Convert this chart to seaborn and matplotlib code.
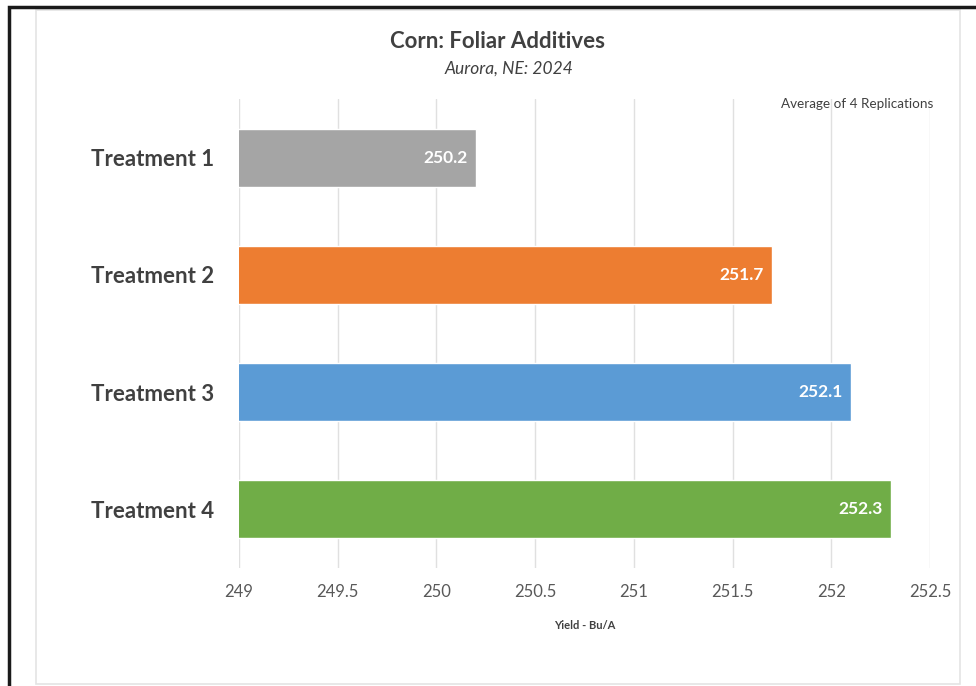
import matplotlib.pyplot as plt
import seaborn as sns
import pandas as pd
from matplotlib.patches import Rectangle

treatments = ["Treatment 1", "Treatment 2", "Treatment 3", "Treatment 4"]
yields = [250.2, 251.7, 252.1, 252.3]
colors = ["#A5A5A5", "#ED7D31", "#5B9BD5", "#70AD47"]
xticks = [249, 249.5, 250, 250.5, 251, 251.5, 252, 252.5]

sns.set_style("white")
plt.rcParams['font.family'] = ['Lato', 'DejaVu Sans']

df = pd.DataFrame({"treatment": treatments, "yield": yields})

fig = plt.figure(figsize=(9.76, 6.86), dpi=100)
ax = fig.add_axes([0.2449, 0.1727, 0.708, 0.6823])

# frames around the chart
fig.patches.append(Rectangle((36/976, 1-684/686), (960-36)/976, (684-10)/686,
                             transform=fig.transFigure, fill=False,
                             edgecolor="#E4E4E4", lw=1.2))
fig.patches.append(Rectangle((9/976, -0.05), 1.2, 1-7/686+0.05,
                             transform=fig.transFigure, fill=False,
                             edgecolor="#1a1a1a", lw=2.5))

sns.barplot(data=df, x="yield", y="treatment", hue="treatment", palette=colors,
            legend=False, width=0.5, ax=ax, saturation=1, zorder=3)
ax.set_xlim(249, 252.5)
ax.set_xticks(xticks)
ax.set_xticklabels([f"{t:g}" for t in xticks], color="#595959", fontsize=12)
ax.tick_params(axis="x", length=0, pad=12)
ax.tick_params(axis="y", length=0, pad=18)
for lab in ax.get_yticklabels():
    lab.set_fontsize(16)
    lab.set_fontweight("bold")
    lab.set_color("#404040")
ax.grid(axis="x", color="#E0E0E0", lw=1, zorder=0)
ax.grid(axis="y", visible=False)
for s in ax.spines.values():
    s.set_visible(False)
ax.set_ylabel("")
ax.set_xlabel("Yield - Bu/A", fontsize=8, fontweight="bold", color="#404040", labelpad=14)

for i, v in enumerate(yields):
    ax.text(v - 0.04, i, f"{v:.1f}", ha="right", va="center", color="white",
            fontsize=12.5, fontweight="bold", zorder=4)

fig.text(0.51, 0.940, "Corn: Foliar Additives", ha="center", va="center",
         fontsize=16, fontweight="bold", color="#404040")
fig.text(0.522, 0.900, "Aurora, NE: 2024", ha="center", va="center",
         fontsize=12.5, style="italic", color="#404040")
fig.text(0.956, 0.849, "Average of 4 Replications", ha="right", va="center",
         fontsize=9.7, color="#404040")

fig.savefig("out.png", dpi=100)
